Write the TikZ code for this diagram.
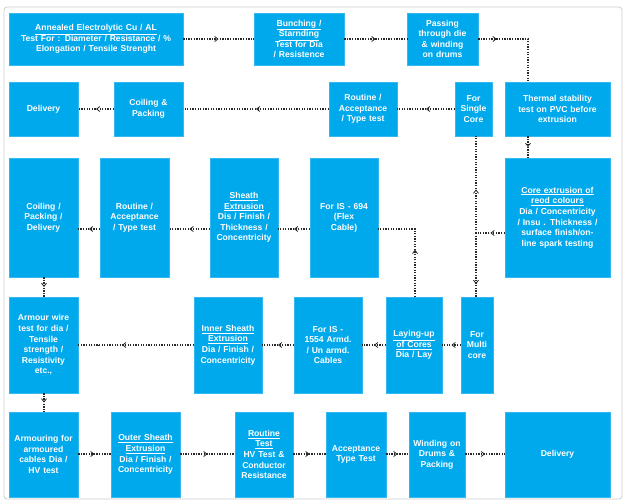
\documentclass[tikz,border=0pt]{standalone}
\usepackage{fontspec}
\setmainfont{Liberation Sans}
\usetikzlibrary{arrows.meta,decorations.markings}
\definecolor{boxblue}{RGB}{0,168,236}
\definecolor{lnk}{RGB}{40,40,40}
\tikzset{
  box/.style={fill=boxblue,draw=boxblue!80!white,text=white,font=\bfseries\fontsize{8.6}{10.6}\selectfont,align=center,inner sep=1pt},
  flow/.style={lnk,line width=1.3pt,dash pattern=on 1.3pt off 1.3pt,
    postaction={decorate},decoration={markings,mark=at position #1 with {\arrow[solid,line width=0.8pt]{Straight Barb[length=3.2pt,width=5pt]}}}},
  flow/.default=0.5,
  plain/.style={lnk,line width=1.3pt,dash pattern=on 1.3pt off 1.3pt}
}
\newcommand\bx[6]{\node[box,minimum width={#4-#2},minimum height={#5-#3},text width={#4-#2-4}] (#1) at ({(#2+#4)/2},{(#3+#5)/2}) {#6};}
\begin{document}
\begin{tikzpicture}[x=1pt,y=-1pt]
\useasboundingbox (0,0) rectangle (629,503);
\draw[gray!40,line width=0.8pt,rounded corners=3pt] (4,7) rectangle (622,499);
% row 1
\bx{A}{9}{13}{183}{65}{\underline{Annealed Electrolytic Cu / AL}\\Test For : Diameter / Resistance / \%\\Elongation / Tensile Strenght}
\bx{B}{254}{13}{344}{65}{\underline{Bunching /}\\\underline{Starnding}\\Test for Dia\\/ Resistence}
\bx{C}{407}{13}{478}{65}{Passing\\through die\\\& winding\\on drums}
% row 2
\bx{D}{9}{82}{78}{136}{Delivery}
\bx{E}{114}{82}{183}{136}{Coiling \&\\Packing}
\bx{F}{329}{82}{397}{136}{Routine /\\Acceptance\\/ Type test}
\bx{G}{455}{82}{492}{136}{For\\Single\\Core}
\bx{H}{505}{82}{610}{136}{Thermal stability\\test on PVC before\\extrusion}
% row 3
\bx{I}{9}{158}{78}{277}{Coiling /\\Packing /\\Delivery\\[44pt]}
\bx{J}{100}{158}{169}{277}{Routine /\\Acceptance\\/ Type test\\[44pt]}
\bx{K}{210}{158}{278}{277}{\underline{Sheath}\\\underline{Extrusion}\\Dis / Finish /\\Thickness /\\Concentricity\\[22pt]}
\bx{L}{310}{158}{378}{277}{For IS - 694\\(Flex\\Cable)\\[33pt]}
\bx{M}{505}{158}{610}{277}{\underline{Core extrusion of}\\\underline{reod colours}\\Dia / Concentricity\\/ Insu . Thickness /\\surface finish/on-\\line spark testing\\[14pt]}
% row 4
\bx{N}{9}{297}{78}{393}{Armour wire\\test for dia /\\Tensile\\strength /\\Resistivity\\etc.,}
\bx{O}{194}{297}{262}{393}{\underline{Inner Sheath}\\\underline{Extrusion}\\Dia / Finish /\\Concentricity}
\bx{P}{294}{297}{362}{393}{For IS -\\1554 Armd.\\/ Un armd.\\Cables}
\bx{Q}{386}{297}{442}{393}{\underline{Laying-up}\\\underline{of Cores}\\Dia / Lay}
\bx{R}{461}{297}{493}{393}{For\\Multi\\core}
% row 5
\bx{S}{9}{412}{78}{497}{Armouring for\\armoured\\cables Dia /\\HV test}
\bx{T}{111}{412}{180}{497}{\underline{Outer Sheath}\\\underline{Extrusion}\\Dia / Finish /\\Concentricity}
\bx{U}{235}{412}{293}{497}{\underline{Routine}\\\underline{Test}\\HV Test \&\\Conductor\\Resistance}
\bx{V}{326}{412}{386}{497}{Acceptance\\Type Test}
\bx{W}{409}{412}{465}{497}{Winding on\\Drums \&\\Packing}
\bx{X}{505}{412}{610}{497}{Delivery}
% connectors
\coordinate (c1) at (528,39);
\coordinate (j) at (476,233);
\coordinate (q1) at (415,229);
\draw[flow] (A.east|-0,39) -- (B.west|-0,39);
\draw[flow] (B.east|-0,39) -- (C.west|-0,39);
\draw[flow=0.2] (C.east|-c1) -- (c1) -- (c1|-H.north);
\draw[flow] (H.south-|c1) -- (M.north-|c1);
\draw[flow] (G.west) -- (F.east);
\draw[flow] (F.west) -- (E.east);
\draw[flow] (E.west) -- (D.east);
\draw[flow] (M.west|-j) -- (j);
\draw[flow=0.45] (j) -- (j|-G.south);
\draw[flow=0.8] (j) -- (j|-R.north);
\draw[flow] (R.west|-0,345) -- (Q.east|-0,345);
\draw[flow] (Q.west|-0,345) -- (P.east|-0,345);
\draw[flow] (P.west|-0,345) -- (O.east|-0,345);
\draw[flow=0.62] (O.west|-0,345) -- (N.east|-0,345);
\draw[lnk,line width=0.8pt] (100,345) -- ++(-3.2,0) (100,345) -- ++(0,0);
\draw[flow=0.45] (Q.north-|q1) -- (q1) -- (L.east|-q1);
\draw[flow] (L.west|-0,229) -- (K.east|-0,229);
\draw[flow] (K.west|-0,229) -- (J.east|-0,229);
\draw[flow] (J.west|-0,229) -- (I.east|-0,229);
\draw[flow] (I.south-|44,0) -- (N.north-|44,0);
\draw[flow] (N.south-|44,0) -- (S.north-|44,0);
\draw[flow] (S.east|-0,454) -- (T.west|-0,454);
\draw[flow] (T.east|-0,454) -- (U.west|-0,454);
\draw[flow] (U.east|-0,454) -- (V.west|-0,454);
\draw[flow] (V.east|-0,454) -- (W.west|-0,454);
\draw[flow] (W.east|-0,454) -- (X.west|-0,454);
\end{tikzpicture}
\end{document}
